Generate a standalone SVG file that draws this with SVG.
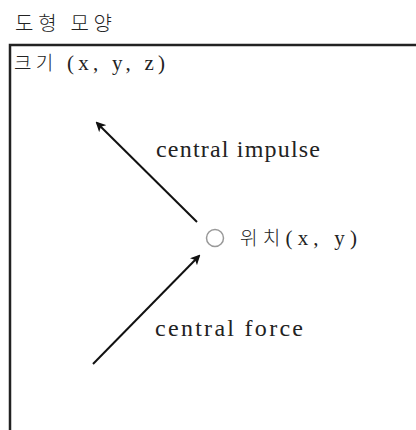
<svg xmlns="http://www.w3.org/2000/svg" width="416" height="430" viewBox="0 0 416 430">
<style>
.t{font-family:"Liberation Serif","Noto Sans CJK KR",serif;fill:#222;}
.k{font-family:"Noto Sans CJK KR","Liberation Serif",serif;fill:#222;font-weight:300;}
.frame{stroke:#222;stroke-width:2.5;fill:none;}
.arrow{stroke:#111;stroke-width:2;fill:none;marker-end:url(#ah);}
</style>
<defs>
<marker id="ah" markerWidth="10" markerHeight="10" refX="8" refY="5" orient="auto" markerUnits="userSpaceOnUse">
<path d="M0,0 L10,5 L0,10 L2.5,5 Z" fill="#111"/>
</marker>
</defs>
<rect width="416" height="430" fill="#fff"/>
<g id="title"><text class="k" x="15" y="31" font-size="20" textLength="97" lengthAdjust="spacing">도형 모양</text></g>
<g id="frame">
<path class="frame" d="M10,430 L10,45 L416,45"/>
<text class="t" x="14" y="70" font-size="21" textLength="151" lengthAdjust="spacing"><tspan class="k" font-size="19">크기</tspan> (x, y, z)</text>
</g>
<g id="position">
<circle cx="215" cy="238" r="8.5" fill="none" stroke="#999" stroke-width="1.5"/>
<text class="t" x="240" y="245" font-size="21" textLength="117" lengthAdjust="spacing"><tspan class="k" font-size="19">위치</tspan>(x, y)</text>
</g>
<g id="connectors">
<line class="arrow" x1="197" y1="222" x2="97" y2="123"/>
<line class="arrow" x1="93" y1="364" x2="199" y2="256"/>
</g>
<g id="labels">
<text class="t" x="156" y="157" font-size="24" textLength="164" lengthAdjust="spacing">central impulse</text>
<text class="t" x="155" y="336" font-size="24" textLength="148" lengthAdjust="spacing">central force</text>
</g>
</svg>
